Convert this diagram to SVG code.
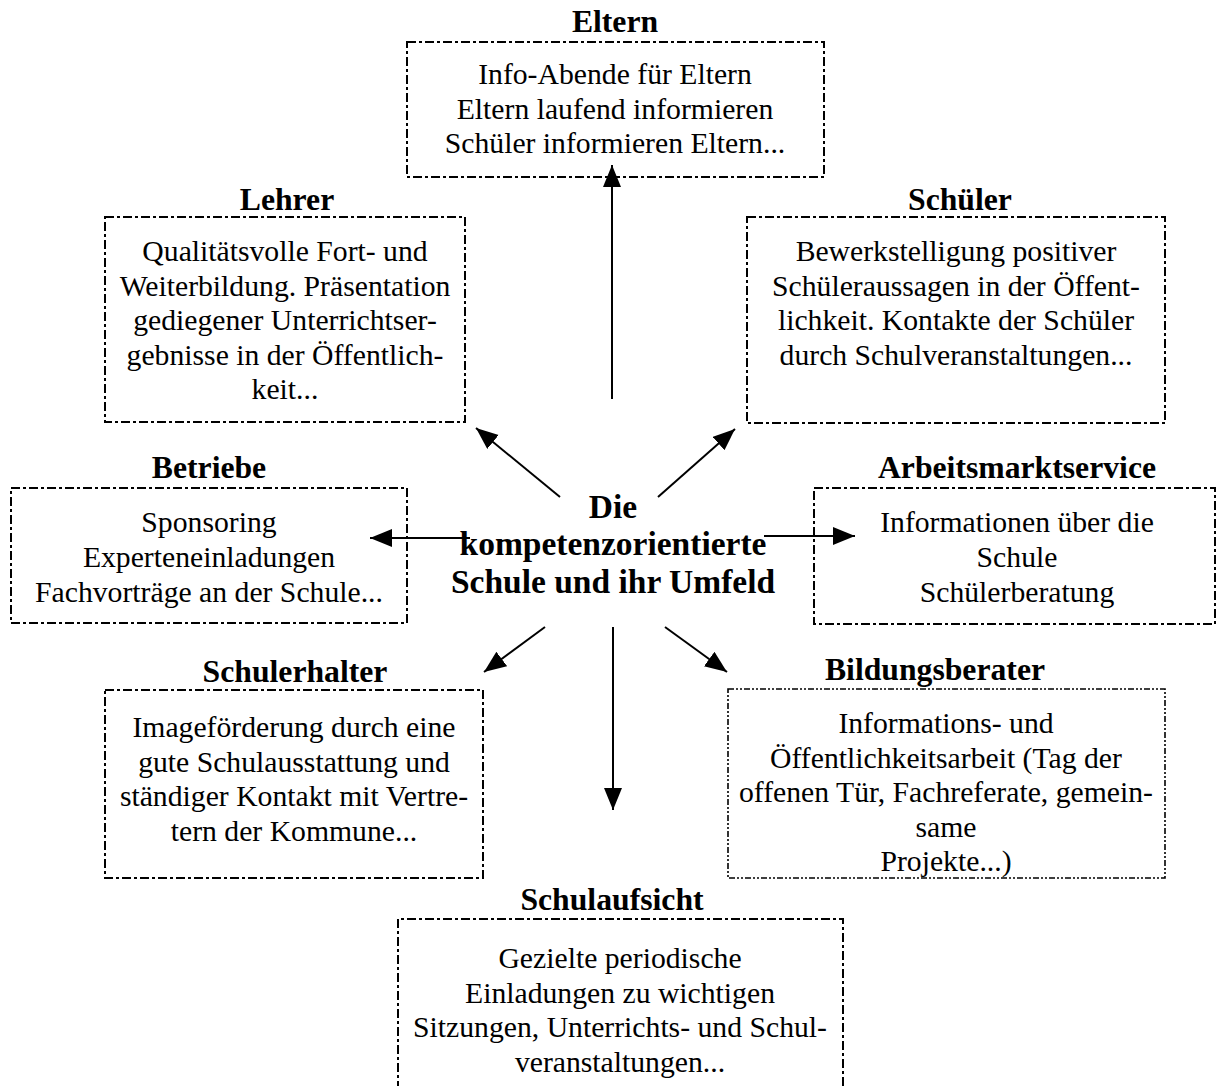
<svg xmlns="http://www.w3.org/2000/svg" width="1221" height="1086" viewBox="0 0 1221 1086">
<style>
.box{fill:none;stroke:#000;stroke-width:2;stroke-dasharray:9 3 3 3}
.box2{fill:none;stroke:#000;stroke-width:1.6;stroke-dasharray:6 2 2 2 2 2}
.t{font-family:"Liberation Serif","Times New Roman",serif;font-size:29.7px;text-anchor:middle;fill:#000}
.h{font-family:"Liberation Serif","Times New Roman",serif;font-size:31.7px;font-weight:bold;text-anchor:middle;fill:#000}
.hc{font-family:"Liberation Serif","Times New Roman",serif;font-size:33.5px;font-weight:bold;text-anchor:middle;fill:#000}
.c line{stroke:#000;stroke-width:2;marker-end:url(#ah)}
</style>
<defs>
<marker id="ah" markerUnits="userSpaceOnUse" markerWidth="24" markerHeight="20" refX="22" refY="9" orient="auto">
<path d="M0,0 L22,9 L0,18 Z" fill="#000"/>
</marker>
</defs>
<rect width="1221" height="1086" fill="#fff"/>
<g id="center">
<text class="hc" x="613" y="518">Die</text>
<text class="hc" x="613" y="555">kompetenzorientierte</text>
<text class="hc" x="613" y="593">Schule und ihr Umfeld</text>
</g>
<g id="eltern">
<text class="h" x="615" y="32">Eltern</text>
<rect class="box" x="407" y="42" width="417" height="135"/>
<text class="t" x="615" y="84">Info-Abende für Eltern</text>
<text class="t" x="615" y="118.5">Eltern laufend informieren</text>
<text class="t" x="615" y="153">Schüler informieren Eltern...</text>
</g>
<g id="lehrer">
<text class="h" x="287" y="210">Lehrer</text>
<rect class="box" x="105" y="217" width="360" height="205"/>
<text class="t" x="285" y="261">Qualitätsvolle Fort- und</text>
<text class="t" x="285" y="295.5">Weiterbildung. Präsentation</text>
<text class="t" x="285" y="330">gediegener Unterrichtser-</text>
<text class="t" x="285" y="364.5">gebnisse in der Öffentlich-</text>
<text class="t" x="285" y="399">keit...</text>
</g>
<g id="schueler">
<text class="h" x="960" y="210">Schüler</text>
<rect class="box" x="747" y="217" width="418" height="206"/>
<text class="t" x="956" y="261">Bewerkstelligung positiver</text>
<text class="t" x="956" y="295.5">Schüleraussagen in der Öffent-</text>
<text class="t" x="956" y="330">lichkeit. Kontakte der Schüler</text>
<text class="t" x="956" y="364.5">durch Schulveranstaltungen...</text>
</g>
<g id="betriebe">
<text class="h" x="209" y="478">Betriebe</text>
<rect class="box" x="11" y="488" width="396" height="135"/>
<text class="t" x="209" y="532">Sponsoring</text>
<text class="t" x="209" y="567">Experteneinladungen</text>
<text class="t" x="209" y="602">Fachvorträge an der Schule...</text>
</g>
<g id="ams">
<text class="h" x="1017" y="478">Arbeitsmarktservice</text>
<rect class="box" x="814" y="488" width="401" height="136"/>
<text class="t" x="1017" y="532">Informationen über die</text>
<text class="t" x="1017" y="567">Schule</text>
<text class="t" x="1017" y="602">Schülerberatung</text>
</g>
<g id="schulerhalter">
<text class="h" x="295" y="682">Schulerhalter</text>
<rect class="box" x="105" y="690" width="378" height="188"/>
<text class="t" x="294" y="737">Imageförderung durch eine</text>
<text class="t" x="294" y="771.5">gute Schulausstattung und</text>
<text class="t" x="294" y="806">ständiger Kontakt mit Vertre-</text>
<text class="t" x="294" y="840.5">tern der Kommune...</text>
</g>
<g id="bildungsberater">
<text class="h" x="935" y="680">Bildungsberater</text>
<rect class="box2" x="728" y="689" width="437" height="189"/>
<text class="t" x="946" y="733">Informations- und</text>
<text class="t" x="946" y="767.5">Öffentlichkeitsarbeit (Tag der</text>
<text class="t" x="946" y="802">offenen Tür, Fachreferate, gemein-</text>
<text class="t" x="946" y="836.5">same</text>
<text class="t" x="946" y="871">Projekte...)</text>
</g>
<g id="schulaufsicht">
<text class="h" x="612" y="910">Schulaufsicht</text>
<path class="box" d="M398,1090 L398,919 L843,919 L843,1090"/>
<text class="t" x="620" y="968">Gezielte periodische</text>
<text class="t" x="620" y="1002.5">Einladungen zu wichtigen</text>
<text class="t" x="620" y="1037">Sitzungen, Unterrichts- und Schul-</text>
<text class="t" x="620" y="1071.5">veranstaltungen...</text>
</g>
<g id="connectors" class="c">
<line x1="612" y1="399" x2="612" y2="165"/>
<line x1="613" y1="627" x2="613" y2="810"/>
<line x1="560" y1="497" x2="476" y2="428"/>
<line x1="658" y1="497" x2="735" y2="429"/>
<line x1="545" y1="627" x2="484" y2="672"/>
<line x1="665" y1="627" x2="727" y2="672"/>
<line x1="470" y1="538" x2="370" y2="538"/>
<line x1="764" y1="536" x2="855" y2="536"/>
</g>
</svg>
